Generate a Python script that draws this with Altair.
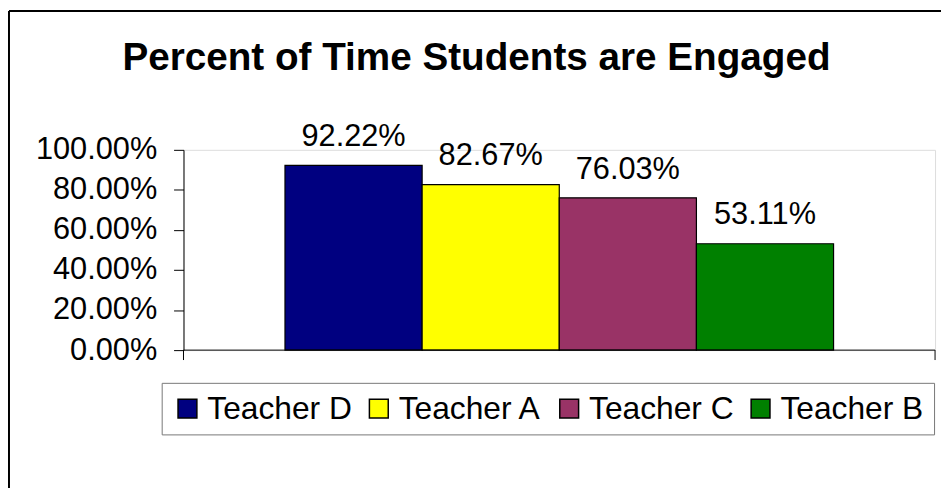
import altair as alt
import pandas as pd

teachers = ["Teacher D", "Teacher A", "Teacher C", "Teacher B"]
engaged = [0.9222, 0.8267, 0.7603, 0.5311]
colors = ["#000080", "#FFFF00", "#993366", "#008000"]
y_ticks = [0.0, 0.2, 0.4, 0.6, 0.8, 1.0]
title_text = "Percent of Time Students are Engaged"

df = pd.DataFrame({"teacher": teachers, "engaged": engaged})
one = pd.DataFrame({"a": [0]})

W, H = 758, 202
FONT = "Liberation Sans, Arial, sans-serif"

x_enc = alt.X("teacher:N", sort=teachers, axis=None,
              scale=alt.Scale(paddingInner=0, paddingOuter=0.74))
y_enc = alt.Y("engaged:Q",
              scale=alt.Scale(domain=[0, 1], nice=False),
              axis=alt.Axis(values=y_ticks, format=".2%", title=None, grid=False,
                            tickSize=10, tickColor="black", domainColor="black",
                            labelFontSize=31, labelFont=FONT, labelColor="black",
                            labelPadding=17))

base = alt.Chart(df)

bars = base.mark_bar(stroke="black", strokeWidth=1.2).encode(
    x=x_enc, y=y_enc,
    color=alt.Color("teacher:N", sort=teachers,
                    scale=alt.Scale(domain=teachers, range=colors),
                    legend=alt.Legend(title=None, orient="none", legendX=-22, legendY=235,
                                      direction="horizontal", columns=4,
                                      symbolType="square", symbolSize=361,
                                      symbolStrokeColor="black", symbolStrokeWidth=1.5,
                                      symbolOpacity=1,
                                      labelFontSize=32, labelFont=FONT, labelColor="black",
                                      labelOffset=4, columnPadding=11, padding=10,
                                      strokeColor="#777777", fillColor="white"))
)

labels = base.mark_text(baseline="alphabetic", dy=-19.5, fontSize=31, font=FONT,
                        color="black").encode(
    x=x_enc, y=y_enc, text=alt.Text("engaged:Q", format=".2%"))

fr = alt.Chart(one)
title = fr.mark_text(text=title_text, fontSize=39, fontWeight="bold", font=FONT,
                     color="black", align="center", baseline="alphabetic").encode(
    x=alt.value(295.5), y=alt.value(-81))
bottom_line = fr.mark_rule(color="black", strokeWidth=1).encode(
    x=alt.value(0), x2=alt.value(W), y=alt.value(H))
tick_l = fr.mark_rule(color="black", strokeWidth=1).encode(
    x=alt.value(0), y=alt.value(H), y2=alt.value(H + 10))
tick_r = fr.mark_rule(color="black", strokeWidth=1).encode(
    x=alt.value(W), y=alt.value(H), y2=alt.value(H + 10))
border_l = fr.mark_rule(color="black", strokeWidth=2).encode(
    x=alt.value(-176), y=alt.value(-140), y2=alt.value(400))
border_t = fr.mark_rule(color="black", strokeWidth=2).encode(
    x=alt.value(-176), x2=alt.value(800), y=alt.value(-140))

chart = alt.layer(bars, labels, title, bottom_line, tick_l, tick_r, border_l, border_t).properties(
    width=W, height=H,
    padding={"left": 177, "top": 141, "right": 6, "bottom": 137},
    autosize=alt.AutoSizeParams(type="none"),
).configure_view(stroke="#808080", strokeWidth=1).configure(background="white")

chart.save("out.html", embed_options={"renderer": "svg", "actions": False})
